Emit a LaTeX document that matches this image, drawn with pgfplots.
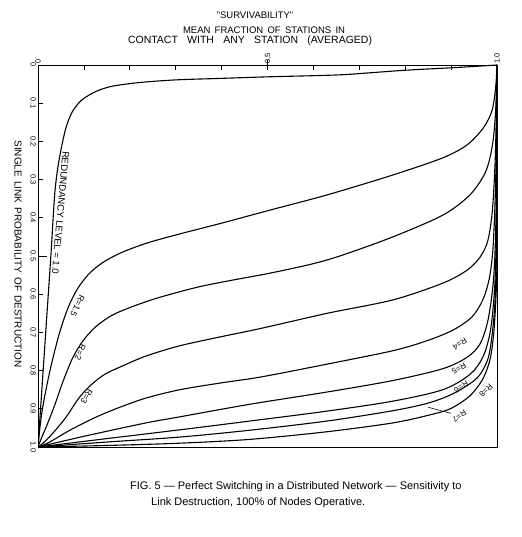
\documentclass[border=0pt]{standalone}
\usepackage{fontspec}
\setmainfont{Liberation Sans}
\usepackage{pgfplots}
\pgfplotsset{compat=1.18}
\begin{document}
\begin{tikzpicture}[x=1pt,y=1pt]
\path[use as bounding box] (-38,-90) rectangle (483,447);
\begin{axis}[
  at={(0,0)}, anchor=south west,
  scale only axis, width=459pt, height=382pt,
  xmin=0, xmax=1, ymin=0, ymax=1,
  y dir=reverse,
  axis line style={line width=0.9pt},
  every tick/.style={black, line width=0.8pt},
  tick align=inside,
  major tick length=5pt, minor tick length=5pt,
  xtick={0,0.5,1}, xticklabels={0,0.5,1.0},
  minor xtick={0.1,0.2,0.3,0.4,0.6,0.7,0.8,0.9},
  xtick pos=right, xticklabel pos=right,
  ytick={0,0.1,0.2,0.3,0.4,0.5,0.6,0.7,0.8,0.9,1},
  yticklabels={0,0.1,0.2,0.3,0.4,0.5,0.6,0.7,0.8,0.9,1.0},
  ytick pos=left, yticklabel pos=left,
  extra y ticks={0.5}, extra y tick labels={},
  extra y tick style={major tick length=9pt},
  extra x ticks={0.5}, extra x tick labels={},
  extra x tick style={major tick length=10pt, tick align=center},
  /pgf/number format/assume math mode=true,
  xticklabel style={rotate=90, anchor=west, font=\fontsize{7.5}{8}\selectfont, inner sep=1.5pt},
  yticklabel style={rotate=-90, anchor=north, font=\fontsize{7.5}{8}\selectfont, inner sep=2pt},
  clip=true,
]
% R = 1.0
\addplot[black, line width=1.1pt, smooth] coordinates {
(0,1)(0.014,0.75)(0.028,0.5)(0.033,0.4)(0.037,0.33)(0.043,0.27)(0.052,0.21)(0.062,0.16)(0.075,0.122)(0.095,0.092)(0.125,0.07)(0.16,0.056)(0.22,0.046)(0.3,0.039)(0.4,0.035)(0.5,0.031)(0.6,0.028)(0.67,0.025)(0.75,0.018)(0.81,0.013)(0.92,0.006)(1,0)};
% R = 1.5
\addplot[black, line width=1.1pt, smooth] coordinates {
(0,1)(0.005,0.94)(0.013,0.877)(0.028,0.79)(0.046,0.705)(0.065,0.637)(0.085,0.588)(0.11,0.548)(0.14,0.518)(0.18,0.492)(0.235,0.467)(0.3,0.445)(0.4,0.414)(0.505,0.38)(0.63,0.34)(0.773,0.288)(0.882,0.243)(0.935,0.209)(0.97,0.165)(0.989,0.12)(0.997,0.06)(1,0)};
% R = 2
\addplot[black, line width=1.1pt, smooth] coordinates {
(0,1)(0.008,0.975)(0.017,0.95)(0.035,0.895)(0.054,0.83)(0.075,0.768)(0.098,0.722)(0.126,0.685)(0.16,0.656)(0.2,0.635)(0.26,0.61)(0.346,0.582)(0.42,0.564)(0.505,0.545)(0.6,0.52)(0.665,0.497)(0.773,0.45)(0.882,0.393)(0.941,0.34)(0.975,0.28)(0.99,0.21)(0.997,0.12)(1,0)};
% R = 3
\addplot[black, line width=1.1pt, smooth] coordinates {
(0,1)(0.011,0.99)(0.033,0.963)(0.061,0.922)(0.089,0.872)(0.115,0.838)(0.145,0.81)(0.18,0.79)(0.235,0.762)(0.309,0.735)(0.4,0.711)(0.484,0.69)(0.63,0.65)(0.773,0.615)(0.882,0.571)(0.935,0.537)(0.963,0.503)(0.98,0.46)(0.99,0.38)(0.996,0.25)(0.999,0.1)(1,0)};
% R = 4
\addplot[black, line width=1.1pt, smooth] coordinates {
(0,1)(0.024,0.988)(0.068,0.957)(0.126,0.922)(0.176,0.897)(0.235,0.872)(0.309,0.85)(0.4,0.832)(0.484,0.817)(0.63,0.783)(0.773,0.748)(0.847,0.722)(0.904,0.694)(0.945,0.66)(0.969,0.615)(0.983,0.56)(0.991,0.484)(0.996,0.35)(0.999,0.18)(1,0)};
% R = 5
\addplot[black, line width=1.1pt, smooth] coordinates {
(0,1)(0.1,0.972)(0.235,0.937)(0.309,0.921)(0.462,0.888)(0.63,0.856)(0.773,0.826)(0.882,0.795)(0.935,0.765)(0.963,0.73)(0.98,0.67)(0.991,0.58)(0.996,0.48)(0.999,0.3)(1,0)};
% R = 6
\addplot[black, line width=1.1pt, smooth] coordinates {
(0,1)(0.15,0.978)(0.309,0.955)(0.462,0.932)(0.63,0.906)(0.773,0.88)(0.882,0.85)(0.941,0.81)(0.969,0.765)(0.985,0.70)(0.994,0.6)(0.998,0.48)(1,0.3)(1,0)};
% R = 7
\addplot[black, line width=1.1pt, smooth] coordinates {
(0,1)(0.15,0.987)(0.309,0.974)(0.462,0.956)(0.63,0.932)(0.773,0.905)(0.85,0.885)(0.905,0.86)(0.956,0.82)(0.98,0.77)(0.99,0.7)(0.996,0.61)(0.999,0.48)(1,0.3)(1,0)};
% R = 8
\addplot[black, line width=1.1pt, smooth] coordinates {
(0,1)(0.15,0.996)(0.309,0.99)(0.462,0.98)(0.63,0.96)(0.773,0.937)(0.85,0.917)(0.898,0.9)(0.941,0.866)(0.969,0.822)(0.985,0.77)(0.993,0.7)(0.998,0.6)(1,0.48)(1,0)};

\node[rotate=-95, font=\fontsize{9.5}{10}\selectfont] at (axis cs:0.049,0.387) {REDUNDANCY LEVEL = 1.0};
\node[rotate=-115, font=\fontsize{8.5}{9}\selectfont] at (axis cs:0.086,0.63) {R=1.5};
\node[rotate=-113, font=\fontsize{8.5}{9}\selectfont] at (axis cs:0.092,0.752) {R=2};
\node[rotate=-119, font=\fontsize{8.5}{9}\selectfont] at (axis cs:0.106,0.868) {R=3};
\node[rotate=-147, font=\fontsize{8}{9}\selectfont] at (axis cs:0.919,0.73) {R=4};
\node[rotate=-150, font=\fontsize{8}{9}\selectfont] at (axis cs:0.917,0.795) {R=5};
\node[rotate=-148, font=\fontsize{8}{9}\selectfont] at (axis cs:0.922,0.843) {R=6};
\node[rotate=-135, font=\fontsize{8}{9}\selectfont] at (axis cs:0.976,0.852) {R=8};
\node[rotate=-145, font=\fontsize{8}{9}\selectfont] at (axis cs:0.918,0.92) {R=7};
\draw[line width=0.6pt] (axis cs:0.9,0.912) -- (axis cs:0.85,0.896);
\end{axis}
\node[font=\fontsize{9.5}{10}\selectfont] at (217,432) {"SURVIVABILITY"};
\node[font=\fontsize{9.5}{10}\selectfont] at (226,417) {\makebox[162pt][s]{MEAN FRACTION OF STATIONS IN}};
\node[font=\fontsize{10.5}{11}\selectfont] at (212,406) {\makebox[244pt][s]{CONTACT WITH ANY STATION (AVERAGED)}};
\node[rotate=-90, font=\fontsize{10}{11}\selectfont] at (-20,193) {\makebox[227pt][s]{SINGLE LINK PROBABILITY OF DESTRUCTION}};
\node[anchor=west, font=\fontsize{11}{12}\selectfont, inner sep=0pt] at (92,-40) {FIG. 5 — Perfect Switching in a Distributed Network — Sensitivity to};
\node[anchor=west, font=\fontsize{11}{12}\selectfont, inner sep=0pt] at (113,-56) {Link Destruction, 100\% of Nodes Operative.};
\end{tikzpicture}
\end{document}
